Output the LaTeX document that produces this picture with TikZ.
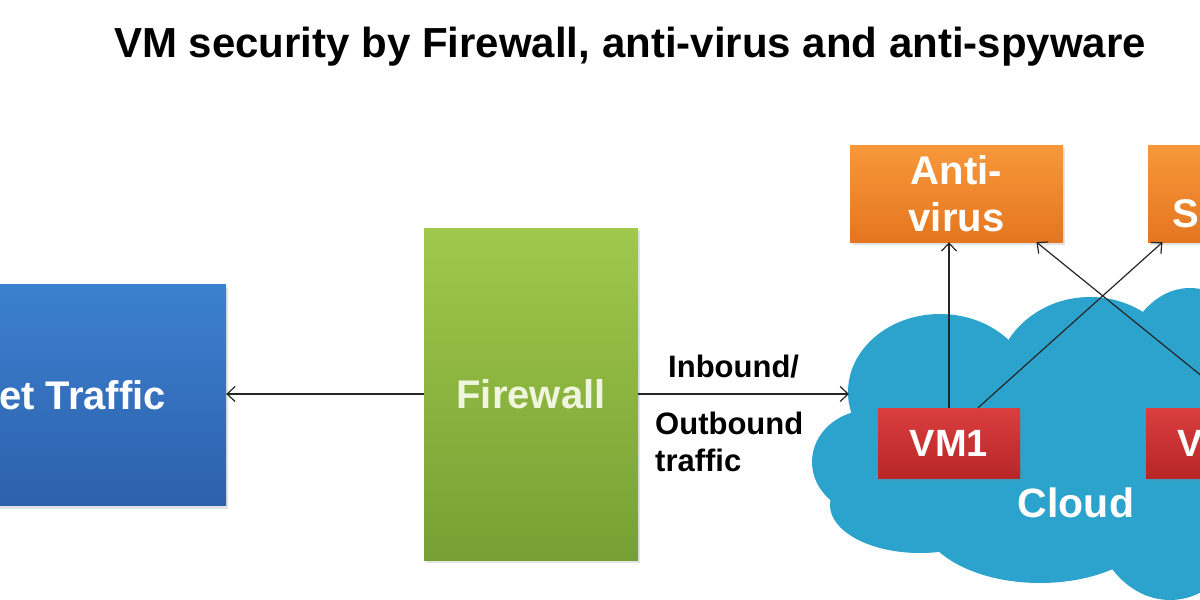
\documentclass[tikz,border=0pt]{standalone}
\usepackage{fontspec}
\setmainfont{Liberation Sans}
\usetikzlibrary{arrows.meta,shadows}
\definecolor{bluetop}{RGB}{60,128,208}
\definecolor{bluebot}{RGB}{45,97,172}
\definecolor{greentop}{RGB}{160,200,75}
\definecolor{greenbot}{RGB}{118,160,52}
\definecolor{orangetop}{RGB}{248,152,58}
\definecolor{orangebot}{RGB}{228,118,32}
\definecolor{redtop}{RGB}{218,62,62}
\definecolor{redbot}{RGB}{184,38,40}
\definecolor{cloudblue}{RGB}{44,163,205}
\definecolor{fwtext}{RGB}{240,246,222}
\begin{document}
\begin{tikzpicture}[x=1pt,y=-1pt,
  box/.style={rectangle, inner sep=0pt, align=center, text=white,
    font=\bfseries\fontsize{40}{47}\selectfont,
    drop shadow={shadow xshift=2pt,shadow yshift=-3pt,opacity=0.22}},
  bluebox/.style={box, top color=bluetop, bottom color=bluebot},
  greenbox/.style={box, top color=greentop, bottom color=greenbot, text=fwtext},
  orangebox/.style={box, top color=orangetop, bottom color=orangebot,
    minimum width=213pt, minimum height=97pt},
  redbox/.style={box, top color=redtop, bottom color=redbot,
    minimum width=142pt, minimum height=70pt, font=\bfseries\fontsize{38}{44}\selectfont},
  lbl/.style={inner sep=0pt, font=\bfseries\fontsize{31}{37}\selectfont, text=black},
  arr/.style={draw=black!85, line width=1.2pt, -{Straight Barb[length=8pt,width=15pt]}}
]
\useasboundingbox (0,0) rectangle (1200,600);
\clip (0,0) rectangle (1200,600);
\fill[white] (0,0) rectangle (1200,600);

% title
\node[inner sep=0pt, anchor=base, font=\bfseries\fontsize{42}{48}\selectfont] (title) at (630,57)
  {VM security by Firewall, anti-virus and anti-spyware};

% cloud
\begin{scope}[fill=cloudblue]
  \fill (940,392) ellipse [x radius=92, y radius=78];
  \fill (870,462) ellipse [x radius=58, y radius=52];
  \fill (920,505) ellipse [x radius=90, y radius=48];
  \fill (1040,515) ellipse [x radius=120, y radius=68];
  \fill (1090,385) ellipse [x radius=95, y radius=88];
  \fill (1190,380) ellipse [x radius=70, y radius=92];
  \fill (1170,500) ellipse [x radius=80, y radius=100];
  \fill (1040,440) ellipse [x radius=130, y radius=90];
\end{scope}
\coordinate (cloudin) at (849,394);
\node[inner sep=0pt, text=white, font=\bfseries\fontsize{41}{48}\selectfont] (cloud) at (1076,503) {Cloud};

% boxes
\node[bluebox, minimum width=398pt, minimum height=221pt] (inet) at (27,395) {Internet Traffic};
\node[greenbox, minimum width=214pt, minimum height=332pt] (fw) at (531,394) {Firewall};
\node[orangebox] (av) at (956.5,193.5) {Anti-\\virus};
\node[orangebox] (as) at (1254.5,193.5) {Anti-\\Spyware};
\node[redbox] (vm1) at (949,443) {VM1};
\node[redbox] (vm2) at (1217,443) {VM2};

% labels
\node[lbl, anchor=base west] (inb) at (668,377) {Inbound/};
\node[lbl, anchor=north west, align=left] (outb) at (655,412) {Outbound\\traffic};

% connectors
\draw[arr] (fw.west) -- (fw.west -| inet.east);
\draw[arr] (fw.east) -- (cloudin);
\draw[arr] (vm1.north) -- (vm1.north |- av.south);
\draw[arr] ([xshift=29pt]vm1.north) -- ([xshift=-92pt]as.south);
\draw[arr] ([xshift=24pt]vm2.north) -- ([xshift=80pt]av.south);
\end{tikzpicture}
\end{document}
